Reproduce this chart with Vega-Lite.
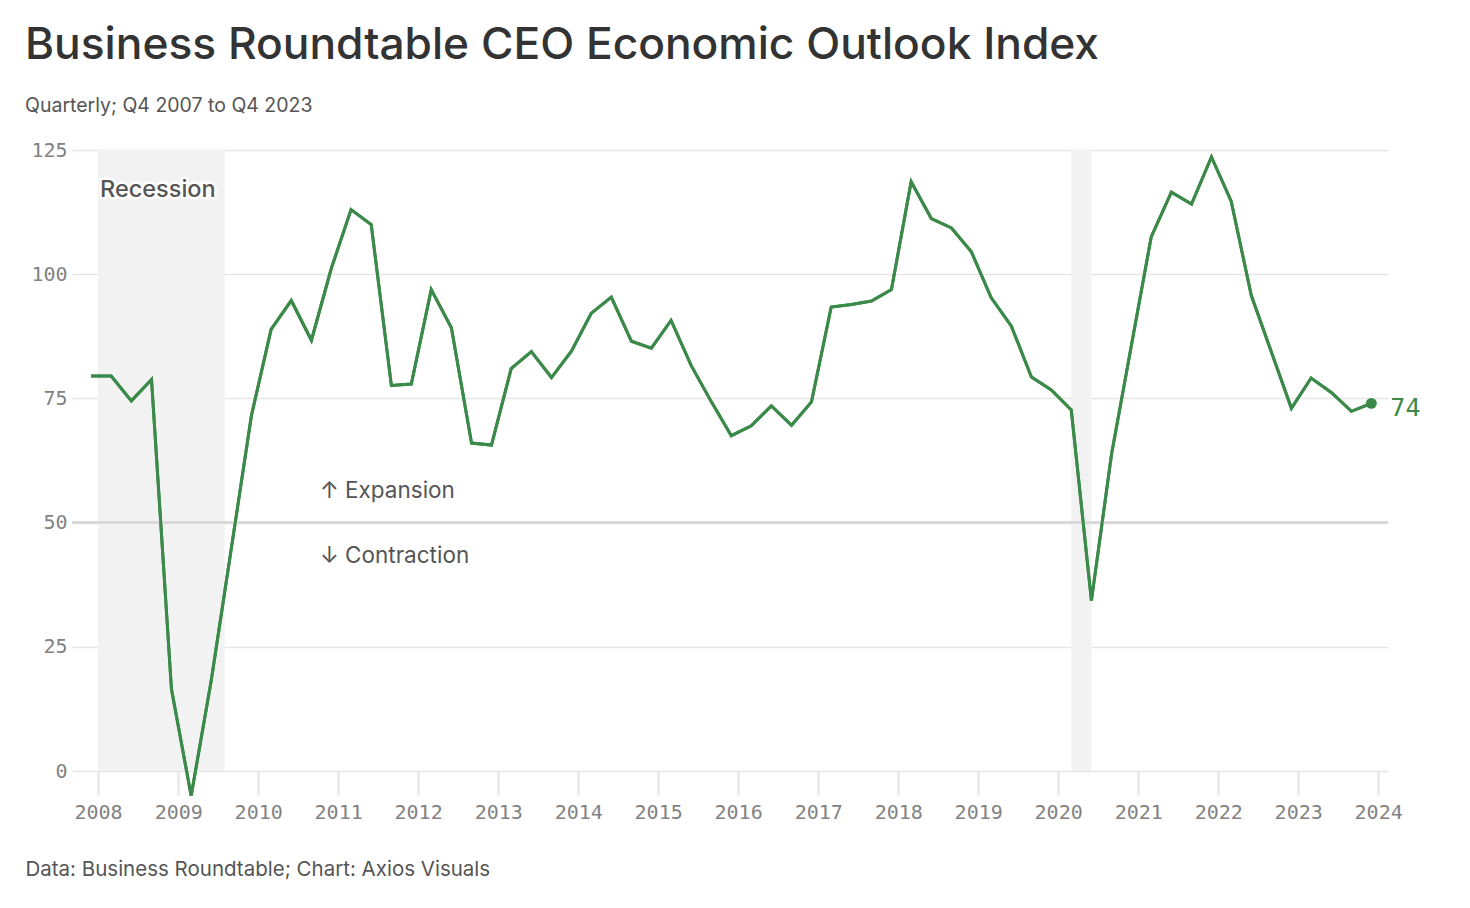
{
  "$schema": "https://vega.github.io/schema/vega-lite/v6.json",
  "width": 1316,
  "height": 621,
  "autosize": {"type": "none"},
  "padding": {"left": 72, "top": 150, "right": 82, "bottom": 137},
  "background": "white",
  "title": {
    "text": "Business Roundtable CEO Economic Outlook Index",
    "subtitle": "Quarterly; Q4 2007 to Q4 2023",
    "anchor": "start",
    "frame": "group",
    "dx": -47,
    "offset": 25,
    "font": "Inter",
    "fontSize": 44.3,
    "fontWeight": 500,
    "color": "#333333",
    "subtitleFont": "Inter",
    "subtitleFontSize": 19.5,
    "subtitleColor": "#555555",
    "subtitlePadding": 28
  },
  "datasets": {
    "index": [
      {"date": "2007-12-01", "value": 79.5},
      {"date": "2008-03-01", "value": 79.5},
      {"date": "2008-06-01", "value": 74.5},
      {"date": "2008-09-01", "value": 78.8},
      {"date": "2008-12-01", "value": 16.5},
      {"date": "2009-03-01", "value": -5.0},
      {"date": "2009-06-01", "value": 18.3},
      {"date": "2009-09-01", "value": 45.0},
      {"date": "2009-12-01", "value": 71.5},
      {"date": "2010-03-01", "value": 88.9},
      {"date": "2010-06-01", "value": 94.7},
      {"date": "2010-09-01", "value": 86.7},
      {"date": "2010-12-01", "value": 101.2},
      {"date": "2011-03-01", "value": 113.0},
      {"date": "2011-06-01", "value": 110.0},
      {"date": "2011-09-01", "value": 77.6},
      {"date": "2011-12-01", "value": 77.9},
      {"date": "2012-03-01", "value": 96.9},
      {"date": "2012-06-01", "value": 89.2},
      {"date": "2012-09-01", "value": 66.0},
      {"date": "2012-12-01", "value": 65.6},
      {"date": "2013-03-01", "value": 81.0},
      {"date": "2013-06-01", "value": 84.4},
      {"date": "2013-09-01", "value": 79.2},
      {"date": "2013-12-01", "value": 84.5},
      {"date": "2014-03-01", "value": 92.1},
      {"date": "2014-06-01", "value": 95.4},
      {"date": "2014-09-01", "value": 86.5},
      {"date": "2014-12-01", "value": 85.1},
      {"date": "2015-03-01", "value": 90.7},
      {"date": "2015-06-01", "value": 81.6},
      {"date": "2015-09-01", "value": 74.3},
      {"date": "2015-12-01", "value": 67.5},
      {"date": "2016-03-01", "value": 69.5},
      {"date": "2016-06-01", "value": 73.5},
      {"date": "2016-09-01", "value": 69.6},
      {"date": "2016-12-01", "value": 74.3},
      {"date": "2017-03-01", "value": 93.4},
      {"date": "2017-06-01", "value": 93.9},
      {"date": "2017-09-01", "value": 94.6},
      {"date": "2017-12-01", "value": 96.9},
      {"date": "2018-03-01", "value": 118.6},
      {"date": "2018-06-01", "value": 111.2},
      {"date": "2018-09-01", "value": 109.3},
      {"date": "2018-12-01", "value": 104.5},
      {"date": "2019-03-01", "value": 95.3},
      {"date": "2019-06-01", "value": 89.6},
      {"date": "2019-09-01", "value": 79.3},
      {"date": "2019-12-01", "value": 76.7},
      {"date": "2020-03-01", "value": 72.7},
      {"date": "2020-06-01", "value": 34.3},
      {"date": "2020-09-01", "value": 63.8},
      {"date": "2020-12-01", "value": 85.8},
      {"date": "2021-03-01", "value": 107.5},
      {"date": "2021-06-01", "value": 116.5},
      {"date": "2021-09-01", "value": 114.1},
      {"date": "2021-12-01", "value": 123.6},
      {"date": "2022-03-01", "value": 114.7},
      {"date": "2022-06-01", "value": 95.7},
      {"date": "2022-09-01", "value": 84.3},
      {"date": "2022-12-01", "value": 73.0},
      {"date": "2023-03-01", "value": 79.1},
      {"date": "2023-06-01", "value": 76.2},
      {"date": "2023-09-01", "value": 72.4},
      {"date": "2023-12-01", "value": 74.0}
    ],
    "recessions": [
      {"start": "2008-01-01", "end": "2009-08-01"},
      {"start": "2020-03-01", "end": "2020-06-01"}
    ],
    "last": [
      {"date": "2023-12-01", "value": 74.0, "label": "74"}
    ],
    "notes": [
      {"date": "2010-10-10", "value": 56.4, "label": "↑ Expansion"},
      {"date": "2010-10-10", "value": 43.3, "label": "↓ Contraction"}
    ],
    "recessionLabel": [
      {"date": "2008-01-10", "value": 117, "label": "Recession"}
    ]
  },
  "encoding": {
    "x": {
      "type": "temporal",
      "scale": {
        "domain": [
          {"year": 2007, "month": 9, "date": 4},
          {"year": 2024, "month": 2, "date": 15}
        ]
      }
    }
  },
  "layer": [
    {
      "data": {"name": "recessions"},
      "mark": {"type": "rect", "color": "#f2f2f2"},
      "encoding": {
        "x": {
          "field": "start",
          "type": "temporal",
          "axis": {
            "format": "%Y",
            "tickCount": {"interval": "year", "step": 1},
            "grid": false,
            "domain": false,
            "ticks": true,
            "tickSize": 24,
            "tickColor": "#e2e2e2",
            "tickWidth": 2,
            "labelFont": "DejaVu Sans Mono",
            "labelFontSize": 20,
            "labelColor": "#828282",
            "labelPadding": 7,
            "labelBaseline": "top",
            "title": "Data: Business Roundtable; Chart: Axios Visuals",
            "titleFont": "Inter",
            "titleFontSize": 20.5,
            "titleFontWeight": "normal",
            "titleColor": "#555555",
            "titleAnchor": "start",
            "titleAlign": "left",
            "titleBaseline": "alphabetic",
            "titleX": -47,
            "titleY": 104
          }
        },
        "x2": {"field": "end"}
      }
    },
    {
      "data": {"name": "index"},
      "mark": {"type": "line", "color": "#3b8a4a", "strokeWidth": 3},
      "encoding": {
        "x": {"field": "date", "type": "temporal"},
        "y": {
          "field": "value",
          "type": "quantitative",
          "scale": {"domain": [0, 125], "nice": false, "zero": false},
          "axis": {
            "values": [0, 25, 50, 75, 100, 125],
            "title": null,
            "domain": false,
            "ticks": false,
            "grid": true,
            "gridColor": "#e6e6e6",
            "gridWidth": 1.5,
            "labelFont": "DejaVu Sans Mono",
            "labelFontSize": 20,
            "labelColor": "#828282",
            "labelPadding": 5
          }
        }
      }
    },
    {
      "data": {"name": "last"},
      "mark": {"type": "rule", "color": "#d9d9d9", "strokeWidth": 3},
      "encoding": {"y": {"datum": 50}}
    },
    {
      "data": {"name": "index"},
      "mark": {"type": "line", "color": "#3b8a4a", "strokeWidth": 3},
      "encoding": {
        "x": {"field": "date", "type": "temporal"},
        "y": {"field": "value", "type": "quantitative"}
      }
    },
    {
      "data": {"name": "last"},
      "mark": {"type": "point", "filled": true, "size": 120, "color": "#3b8a4a", "opacity": 1},
      "encoding": {
        "x": {"field": "date", "type": "temporal"},
        "y": {"field": "value", "type": "quantitative"}
      }
    },
    {
      "data": {"name": "last"},
      "mark": {
        "type": "text",
        "align": "left",
        "baseline": "middle",
        "dx": 19,
        "dy": 5,
        "font": "DejaVu Sans Mono",
        "fontSize": 25,
        "color": "#3b8a4a"
      },
      "encoding": {
        "x": {"field": "date", "type": "temporal"},
        "y": {"field": "value", "type": "quantitative"},
        "text": {"field": "label"}
      }
    },
    {
      "data": {"name": "notes"},
      "mark": {
        "type": "text",
        "align": "left",
        "baseline": "middle",
        "font": "Inter",
        "fontSize": 22.5,
        "color": "#555555"
      },
      "encoding": {
        "x": {"field": "date", "type": "temporal"},
        "y": {"field": "value", "type": "quantitative"},
        "text": {"field": "label"}
      }
    },
    {
      "data": {"name": "recessionLabel"},
      "mark": {
        "type": "text",
        "align": "left",
        "baseline": "middle",
        "font": "Inter",
        "fontSize": 23.5,
        "fontWeight": 500,
        "color": "white",
        "stroke": "white",
        "strokeWidth": 5,
        "strokeJoin": "round"
      },
      "encoding": {
        "x": {"field": "date", "type": "temporal"},
        "y": {"field": "value", "type": "quantitative"},
        "text": {"field": "label"}
      }
    },
    {
      "data": {"name": "recessionLabel"},
      "mark": {
        "type": "text",
        "align": "left",
        "baseline": "middle",
        "font": "Inter",
        "fontSize": 23.5,
        "fontWeight": 500,
        "color": "#555555"
      },
      "encoding": {
        "x": {"field": "date", "type": "temporal"},
        "y": {"field": "value", "type": "quantitative"},
        "text": {"field": "label"}
      }
    }
  ],
  "config": {
    "view": {"stroke": null}
  }
}
